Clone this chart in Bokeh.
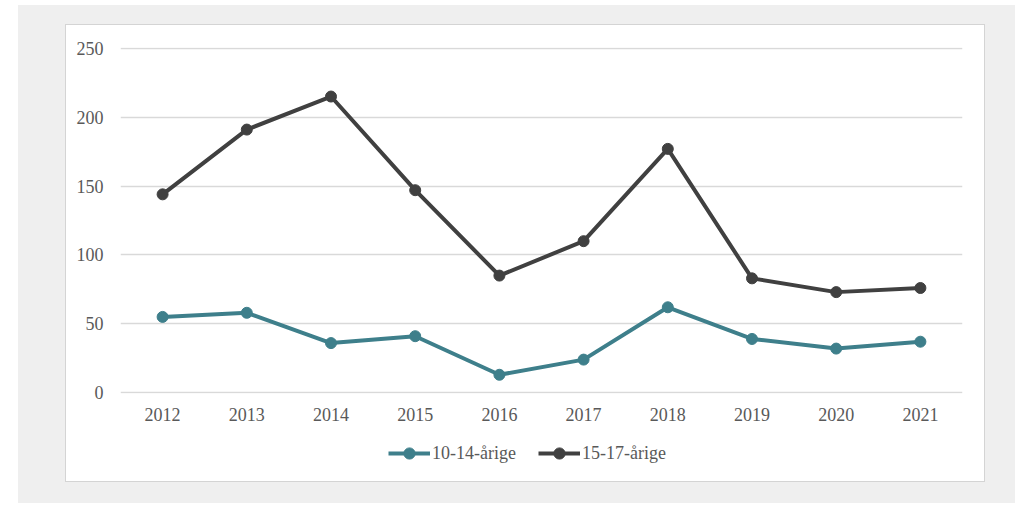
from bokeh.plotting import figure
from bokeh.models import Range1d, Legend, LegendItem, SingleIntervalTicker
from bokeh.layouts import column
from bokeh.embed import file_html
from bokeh.resources import INLINE

years = ["2012", "2013", "2014", "2015", "2016", "2017", "2018", "2019", "2020", "2021"]
age_10_14 = [55, 58, 36, 41, 13, 24, 62, 39, 32, 37]
age_15_17 = [144, 191, 215, 147, 85, 110, 177, 83, 73, 76]
series_names = ["10-14-årige", "15-17-årige"]

TEAL = "#3e7f8b"
DARK = "#404040"
TXT = "#595959"
FONT = "Liberation Serif"
FSIZE = "18px"

# main chart
p = figure(width=918, height=418, x_range=years, y_range=Range1d(-0.6, 250.6),
           output_backend="svg", toolbar_location=None,
           min_border_left=54, min_border_right=22, min_border_top=22, min_border_bottom=50,
           border_fill_color="white", background_fill_color="white", outline_line_color=None)
p.x_range.range_padding = 0

p.line(years, age_10_14, line_color=TEAL, line_width=4)
p.scatter(years, age_10_14, size=11, fill_color=TEAL, line_color=TEAL)
p.line(years, age_15_17, line_color=DARK, line_width=4)
p.scatter(years, age_15_17, size=11, fill_color=DARK, line_color=DARK)

p.yaxis.ticker = SingleIntervalTicker(interval=50)
for ax in (p.xaxis[0], p.yaxis[0]):
    ax.axis_line_color = None
    ax.major_tick_line_color = None
    ax.minor_tick_line_color = None
    ax.major_label_text_font = FONT
    ax.major_label_text_font_size = FSIZE
    ax.major_label_text_color = TXT
p.yaxis.major_label_standoff = 11
p.xaxis.major_label_standoff = 8

p.xgrid.grid_line_color = None
p.ygrid.grid_line_color = "#d9d9d9"
p.ygrid.grid_line_width = 1.5

# legend strip (keys come from hidden copies of the two series)
lg = figure(width=918, height=38, x_range=p.x_range, y_range=Range1d(0, 250),
            output_backend="svg", toolbar_location=None,
            x_axis_type=None, y_axis_type=None, min_border=0,
            border_fill_color="white", background_fill_color="white", outline_line_color=None)
lg.xgrid.grid_line_color = None
lg.ygrid.grid_line_color = None
k1l = lg.line(years, age_10_14, line_color=TEAL, line_width=4, visible=False)
k1s = lg.scatter(years, age_10_14, size=11, fill_color=TEAL, line_color=TEAL, visible=False)
k2l = lg.line(years, age_15_17, line_color=DARK, line_width=4, visible=False)
k2s = lg.scatter(years, age_15_17, size=11, fill_color=DARK, line_color=DARK, visible=False)

legend = Legend(items=[LegendItem(label=series_names[0], renderers=[k1l, k1s]),
                       LegendItem(label=series_names[1], renderers=[k2l, k2s])],
                orientation="horizontal", location=(268, 14),
                glyph_width=42, glyph_height=28, label_height=28, label_standoff=2, spacing=22,
                padding=0, margin=0, border_line_color=None, background_fill_alpha=0,
                label_text_font=FONT, label_text_font_size=FSIZE, label_text_color=TXT)
lg.add_layout(legend, "center")

panel = column(p, lg, spacing=0, styles={"background-color": "white", "outline": "1px solid #d4d4d4"})
panel.margin = (20, 31, 22, 48)

layout = column(panel, styles={"background-color": "#efefef"})
layout.margin = (5, 0, 0, 18)

open("out.html", "w").write(file_html(layout, INLINE))
